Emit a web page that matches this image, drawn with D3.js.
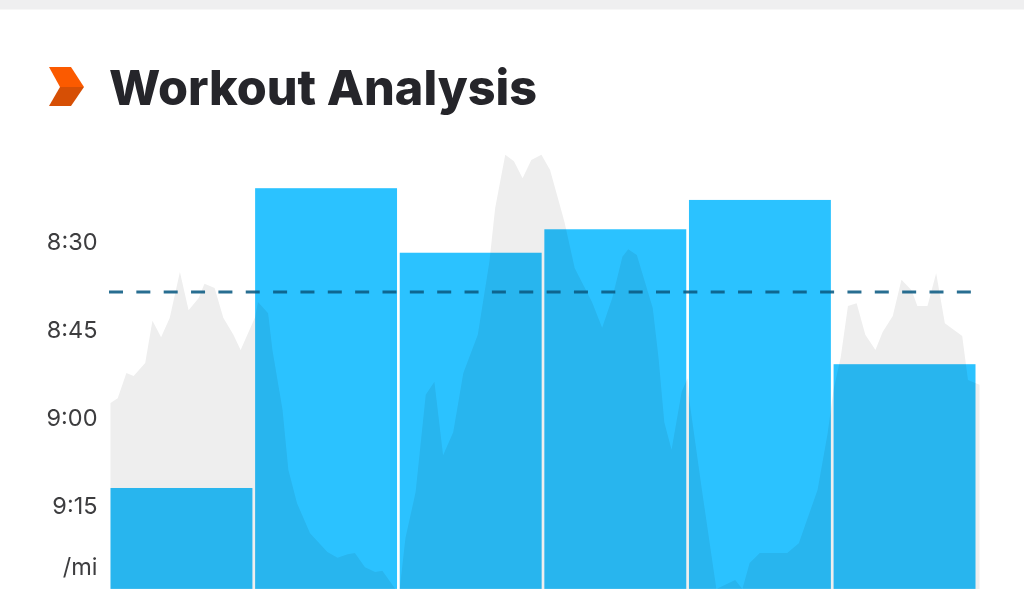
<!DOCTYPE html>
<html>
<head>
<meta charset="utf-8">
<script src="https://cdn.jsdelivr.net/npm/d3@7"></script>
<style>
  html, body { margin: 0; padding: 0; background: #fff; overflow: hidden; }
  svg { display: block; }
  .tick text, .unit { font-family: Inter, sans-serif; font-size: 23.5px; fill: #3d3d3f; }
  .title { font-family: Inter, sans-serif; font-weight: 800; font-size: 48.5px; fill: #25252a; }
</style>
</head>
<body>
<svg id="chart" width="1024" height="604"></svg>
<script>
// mile splits, pace in seconds per mile
const splits = ["1", "2", "3", "4", "5", "6"];
const splitPace = [552.1, 501, 512, 508, 503, 531];
const avgPace = 518.7;

// elevation-like grey trace behind the bars
const traceMiles = [0, .05, .11, .16, .24, .29, .35, .41, .48, .54, .61, .65, .72, .78, .85, .9,
  1, 1.02, 1.09, 1.12, 1.19, 1.23, 1.29, 1.38, 1.5, 1.57, 1.64, 1.69, 1.76, 1.83, 1.88, 1.97,
  2, 2.04, 2.11, 2.18, 2.24, 2.3, 2.37, 2.44, 2.54, 2.62, 2.66, 2.73, 2.79, 2.85, 2.91, 2.98,
  3.04, 3.14, 3.21, 3.33, 3.4, 3.47, 3.54, 3.58, 3.64, 3.75, 3.79, 3.83, 3.88, 3.95, 3.99,
  4, 4.09, 4.19, 4.32, 4.37, 4.42, 4.49, 4.68, 4.76, 4.89, 4.96,
  5, 5.05, 5.1, 5.16, 5.22, 5.29, 5.34, 5.41, 5.47, 5.54, 5.58, 5.65, 5.71, 5.77, 5.89, 5.93, 6.01];
const tracePace = [537.6, 536.8, 532.5, 533, 530.8, 523.6, 526.4, 523.1, 515.3, 521.8, 519.7, 517.3, 518, 523.1, 526, 528.6,
  523, 520.4, 522.3, 528.6, 538.8, 549, 554.7, 559.8, 563, 564, 563.4, 563.2, 565.6, 566.4, 566.2, 569.3,
  569.3, 560.6, 552.8, 536.2, 534, 546.5, 542.6, 532.5, 526, 513.6, 504.4, 495.3, 496.4, 499.3, 496.2, 495.3,
  497.9, 506.8, 514.6, 520.4, 524.8, 519.7, 512.7, 511.4, 512.4, 521.4, 529.9, 540.9, 545.6, 535.7, 533.4,
  536.6, 552.4, 569.3, 567.8, 569.3, 564.9, 563.2, 563.2, 561.5, 552.4, 542.7,
  535.4, 529.8, 521.1, 520.6, 526, 528.6, 525.5, 522.8, 516.6, 518.4, 521.1, 521.1, 515.5, 524, 526.2, 533.7, 534.5];

const paceTicks = [510, 525, 540, 555];
const tickLabels = ["8:30", "8:45", "9:00", "9:15"];
const unitPace = 565.6;
const slowestPace = 569.3;

const svg = d3.select("#chart");

// grey strip at the very top of the page
svg.append("rect").attr("width", 1024).attr("height", 9.5).attr("fill", "#efeff0");

// header icon
svg.append("polygon").attr("points", "49,67 71,67 84,87 60,87").attr("fill", "#fb5a00");
svg.append("polygon").attr("points", "60,87 84,87 71,106 49,106").attr("fill", "#d64f05");

svg.append("text").attr("class", "title").attr("x", 109).attr("y", 105).text("Workout Analysis");

const y = d3.scaleLinear().domain([510, 555]).range([241, 505]);
const xMiles = d3.scaleLinear().domain([0, 6]).range([110.5, 978.1]);
const xBand = d3.scaleBand().domain(splits).range([110.5, 975.5]).paddingInner(0.0187);

const area = d3.area()
  .x(d => xMiles(d[0]))
  .y0(y(slowestPace))
  .y1(d => y(d[1]));

svg.append("path")
  .datum(d3.zip(traceMiles, tracePace))
  .attr("d", area)
  .attr("fill", "#eeeeee");

// multiply so the grey shows through the blue
svg.selectAll(".bar")
  .data(splits)
  .join("rect")
  .attr("class", "bar")
  .attr("x", d => xBand(d))
  .attr("width", xBand.bandwidth())
  .attr("y", (d, i) => y(splitPace[i]))
  .attr("height", (d, i) => y(slowestPace) - y(splitPace[i]))
  .attr("fill", "#2bc2ff")
  .style("mix-blend-mode", "multiply");

svg.append("line")
  .attr("x1", xMiles(0) - 1.5)
  .attr("x2", xBand("6") + xBand.bandwidth() - 3)
  .attr("y1", y(avgPace))
  .attr("y2", y(avgPace))
  .attr("stroke", "#0a5a82")
  .attr("stroke-opacity", 0.88)
  .attr("stroke-width", 3)
  .attr("stroke-dasharray", "14 13.35");

const axis = d3.axisLeft(y)
  .tickValues(paceTicks)
  .tickFormat((d, i) => tickLabels[i])
  .tickSize(0)
  .tickPadding(0);

const axisG = svg.append("g").attr("transform", "translate(97.5,0.5)").call(axis);
axisG.select(".domain").remove();
axisG.attr("font-family", null).attr("font-size", null);

svg.append("text")
  .attr("class", "unit")
  .attr("x", 97.5)
  .attr("y", y(unitPace))
  .attr("dy", "0.32em")
  .attr("text-anchor", "end")
  .text("/mi");
</script>
</body>
</html>
